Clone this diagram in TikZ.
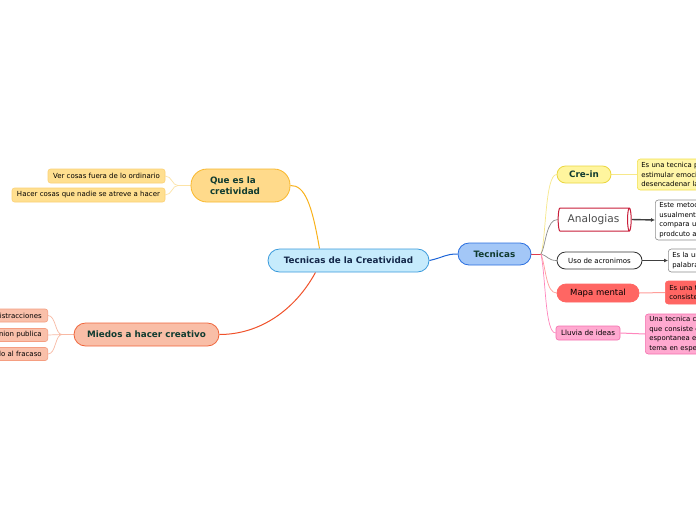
\documentclass[tikz,border=0pt]{standalone}
\usepackage{fontspec}
\setmainfont{DejaVu Sans}
\usetikzlibrary{shapes.geometric,shapes.misc,arrows.meta,backgrounds}
\definecolor{txtgreen}{HTML}{103B30}
\definecolor{txtnavy}{HTML}{14284A}
\definecolor{cfill}{HTML}{C6EBFC}\definecolor{cdraw}{HTML}{3B9BDC}
\definecolor{tfill}{HTML}{A3C7F7}\definecolor{tdraw}{HTML}{2A6FE0}
\definecolor{qfill}{HTML}{FFDA8B}\definecolor{qdraw}{HTML}{F9B82C}
\definecolor{q2fill}{HTML}{FFDF90}\definecolor{q2draw}{HTML}{FCD176}
\definecolor{mfill}{HTML}{F9BEA7}\definecolor{mdraw}{HTML}{F0663C}
\definecolor{m2fill}{HTML}{F9C0AA}\definecolor{m2draw}{HTML}{F59E81}
\definecolor{yfill}{HTML}{FFF59E}\definecolor{ydraw}{HTML}{EBD742}
\definecolor{y2fill}{HTML}{FFF6A8}\definecolor{y2draw}{HTML}{F2E04A}
\definecolor{adraw}{HTML}{C81E3A}
\definecolor{redfill}{HTML}{FF6663}
\definecolor{pfill}{HTML}{FFA9D0}\definecolor{pdraw}{HTML}{F470AE}
\definecolor{lblue}{HTML}{1C64D8}
\definecolor{lorange}{HTML}{F9B21B}
\definecolor{lred}{HTML}{F0512A}
\definecolor{lyel}{HTML}{FCE3A6}
\definecolor{lsal}{HTML}{F8B9A3}
\definecolor{lstub}{HTML}{E03D4D}
\definecolor{lcre}{HTML}{F7E88A}
\definecolor{lmapa}{HTML}{FF9E9A}
\definecolor{lpink}{HTML}{FF86BD}
\tikzset{
  pill/.style={rounded rectangle, line width=0.8pt, inner sep=0pt, font=\bfseries\fontsize{8.8}{10}\selectfont},
  leaf/.style={rectangle, rounded corners=2.5pt, line width=0.6pt, inner xsep=4pt, inner ysep=0pt, minimum height=14pt, font=\fontsize{7}{8}\selectfont},
  desc/.style={rectangle, rounded corners=3pt, line width=0.6pt, inner xsep=4pt, inner ysep=2pt, align=left, anchor=west, text width=100pt, font=\fontsize{6.9}{9.6}\selectfont},
  conn/.style={line width=1pt},
  thin conn/.style={line width=0.7pt},
}
\begin{document}
\begin{tikzpicture}[x=1pt,y=-1pt]
\useasboundingbox (0,0) rectangle (696,520);
\begin{scope}
\clip (0,0) rectangle (696,520);
% main nodes
\node[pill, fill=cfill, draw=cdraw, text=txtnavy, minimum width=161pt, minimum height=23pt] (center) at (348.5,260.5) {Tecnicas de la Creatividad};
\node[pill, fill=tfill, draw=tdraw, text=txtgreen, minimum width=73pt, minimum height=22pt] (tec) at (494.5,254) {Tecnicas};
\node[rectangle, rounded corners=16pt, line width=0.8pt, fill=qfill, draw=qdraw, text=txtgreen, font=\bfseries\fontsize{8.8}{11}\selectfont, text width=61pt, align=left, inner xsep=19pt, inner ysep=0pt, minimum height=33pt] (que) at (240.5,185.5) {Que es la\\cretividad};
\node[leaf, fill=q2fill, draw=q2draw, minimum width=117pt] (ver) at (106.5,176) {Ver cosas fuera de lo ordinario};
\node[leaf, fill=q2fill, draw=q2draw, minimum width=153pt] (hacer) at (88.5,195) {Hacer cosas que nadie se atreve a hacer};
\node[pill, fill=mfill, draw=mdraw, text=txtgreen, minimum width=145pt, minimum height=23pt] (miedos) at (146.5,334.5) {Miedos a hacer creativo};
\node[leaf, fill=m2fill, draw=m2draw, anchor=east, minimum height=13pt, inner xsep=6pt] (dist) at (48,315.5) {Distracciones};
\node[leaf, fill=m2fill, draw=m2draw, anchor=east, minimum height=13pt, inner xsep=6pt] (opin) at (48,335) {Opinion publica};
\node[leaf, fill=m2fill, draw=m2draw, anchor=east, minimum height=13pt, inner xsep=6pt] (fracaso) at (48,354) {Miedo al fracaso};
% right side
\node[pill, fill=yfill, draw=ydraw, text=txtgreen, minimum width=54pt, minimum height=17pt] (crein) at (584,174.5) {Cre-in};
\node[desc, fill=y2fill, draw=y2draw, minimum height=31pt] (creindesc) at (637,174.5) {Es una tecnica para\\estimular emociones y\\desencadenar las ideas};
\node[cylinder, draw=adraw, fill=white, line width=1pt, minimum width=23pt, minimum height=73pt, aspect=0.35, inner sep=0pt, text=black!70, font=\fontsize{10.6}{12}\selectfont] (analog) at (593.5,219.5) {Analogias};
\node[desc, fill=white, draw=black!45, minimum height=40pt] (analogdesc) at (655,220) {Este metodo creativo\\usualmente se usa y\\compara un objeto\\prodcuto a otro};
\node[pill, fill=white, draw=black!80, font=\fontsize{7}{8}\selectfont, minimum width=85pt, minimum height=17pt] (acro) at (599.5,260.5) {Uso de acronimos};
\node[desc, fill=white, draw=black!45, minimum height=23pt] (acrodesc) at (668,260.5) {Es la union de\\palabras};
\node[pill, fill=redfill, draw=redfill, font=\fontsize{8.5}{10}\selectfont, minimum width=82pt, minimum height=18pt] (mapa) at (598,293) {Mapa mental};
\node[desc, fill=redfill, draw=redfill, minimum height=23pt] (mapadesc) at (665,292.5) {Es una tecnica que\\consiste en};
\node[leaf, fill=pfill, draw=pdraw, minimum width=64pt, font=\fontsize{7.2}{8}\selectfont] (lluvia) at (588,333) {Lluvia de ideas};
\node[desc, fill=pfill, draw=pdraw, minimum height=40pt] (lluviadesc) at (645,334) {Una tecnica creativa\\que consiste en\\espontanea el\\tema en especifico};
\end{scope}
\begin{pgfonlayer}{background}
\fill[white] (0,0) rectangle (696,520);
\coordinate (qj) at (178,185.5);
\coordinate (mj) at (62,334.5);
\coordinate (tj) at (541,254);
% centre branches
\draw[conn, lblue] (center.east) .. controls (445,257) and (445,254) .. (tec.west);
\draw[conn, lorange] (que.east) .. controls (305,185) and (312,205) .. ([xshift=-29pt]center.north);
\draw[conn, lred] ([xshift=-33pt]center.south) .. controls (295,310) and (260,334.5) .. (miedos.east);
% que children
\draw[thin conn, lyel] (que.west) -- (qj);
\draw[thin conn, lyel] (qj) .. controls (172,185.5) and (172,176) .. (ver.east);
\draw[thin conn, lyel] (qj) .. controls (172,185.5) and (172,195) .. (hacer.east);
% miedos children
\draw[thin conn, lsal] (miedos.west) -- (mj);
\draw[thin conn, lsal] (mj) .. controls (55,334.5) and (56,315.5) .. (dist.east);
\draw[thin conn, lsal] (mj) -- (opin.east);
\draw[thin conn, lsal] (mj) .. controls (55,334.5) and (56,354) .. (fracaso.east);
% tecnicas children
\draw[conn, lstub] (tec.east) -- (tj);
\draw[thin conn, lcre] (tj) .. controls (546,240) and (545,174.5) .. (crein.west);
\draw[thin conn, black!45] (tj) .. controls (546,245) and (546,219.5) .. (analog.west);
\draw[thin conn, black!45] (tj) .. controls (548,256) and (548,260.5) .. (acro.west);
\draw[thin conn, lmapa] (tj) .. controls (546,268) and (546,293) .. (mapa.west);
\draw[thin conn, lpink] (tj) .. controls (546,280) and (545,333) .. (lluvia.west);
% descriptions
\draw[conn, lcre] (crein.east) -- (creindesc.west);
\draw[line width=1.4pt, black!75, -{Latex[length=4pt,width=4pt]}] (analog.east) -- (analogdesc.west);
\draw[line width=1.4pt, black!75, -{Latex[length=4pt,width=4pt]}] (acro.east) -- (acrodesc.west);
\draw[conn, lmapa] (mapa.east) -- (mapadesc.west);
\draw[conn, lpink] (lluvia.east) -- (lluviadesc.west);
\end{pgfonlayer}
\end{tikzpicture}
\end{document}
